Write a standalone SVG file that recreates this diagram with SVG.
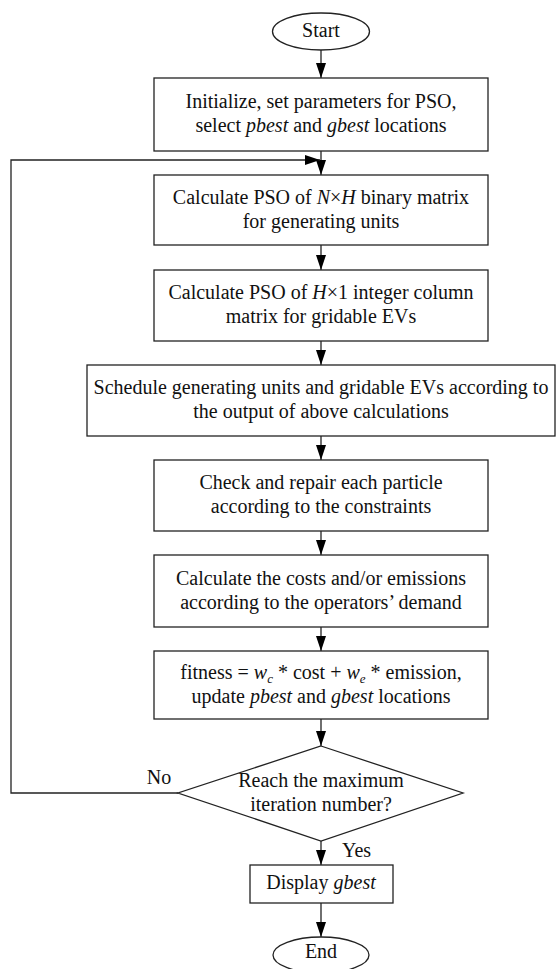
<svg xmlns="http://www.w3.org/2000/svg" width="556" height="969" viewBox="0 0 556 969">
<style>
.box{fill:#fff;stroke:#222;stroke-width:1.3}
.ln{fill:none;stroke:#222;stroke-width:1.3}
text{font-family:"Liberation Serif","Times New Roman",serif;font-size:20px;fill:#111}
.c{text-anchor:middle}
.i{font-style:italic}
.sub{font-size:13px;font-style:italic}
</style>
<defs>
<marker id="ah" markerWidth="15" markerHeight="10" refX="15" refY="5" viewBox="0 0 15 10" markerUnits="userSpaceOnUse" orient="auto">
<path d="M0,0 L15,5 L0,10 Z" fill="#000"/>
</marker>
</defs>
<rect width="556" height="969" fill="#fff"/>
<g id="connectors">
<line class="ln" x1="321" y1="50" x2="321" y2="78" marker-end="url(#ah)"/>
<line class="ln" x1="321" y1="151" x2="321" y2="175" marker-end="url(#ah)"/>
<polyline class="ln" points="178,793 11,793 11,160 320,160" marker-end="url(#ah)"/>
<line class="ln" x1="321" y1="245" x2="321" y2="270" marker-end="url(#ah)"/>
<line class="ln" x1="321" y1="341" x2="321" y2="365" marker-end="url(#ah)"/>
<line class="ln" x1="321" y1="436" x2="321" y2="460" marker-end="url(#ah)"/>
<line class="ln" x1="321" y1="531" x2="321" y2="555" marker-end="url(#ah)"/>
<line class="ln" x1="321" y1="627" x2="321" y2="651" marker-end="url(#ah)"/>
<line class="ln" x1="321" y1="719" x2="321" y2="746" marker-end="url(#ah)"/>
<line class="ln" x1="321" y1="841" x2="321" y2="865" marker-end="url(#ah)"/>
<line class="ln" x1="321" y1="903" x2="321" y2="937" marker-end="url(#ah)"/>
<text x="159" y="784" class="c">No</text>
<text x="342" y="857">Yes</text>
</g>
<g id="start">
<ellipse class="box" cx="321" cy="31.5" rx="48.5" ry="18.5"/>
<text x="321" y="37" class="c">Start</text>
</g>
<g id="init">
<rect class="box" x="154" y="78" width="334" height="73"/>
<text x="321" y="108" class="c">Initialize, set parameters for PSO,</text>
<text x="321" y="132" class="c">select <tspan class="i">pbest</tspan> and <tspan class="i">gbest</tspan> locations</text>
</g>
<g id="pso-binary">
<rect class="box" x="154" y="175" width="334" height="70"/>
<text x="321" y="204" class="c">Calculate PSO of <tspan class="i">N</tspan>×<tspan class="i">H</tspan> binary matrix</text>
<text x="321" y="228" class="c">for generating units</text>
</g>
<g id="pso-integer">
<rect class="box" x="154" y="270" width="334" height="71"/>
<text x="321" y="299" class="c">Calculate PSO of <tspan class="i">H</tspan>×1 integer column</text>
<text x="321" y="323" class="c">matrix for gridable EVs</text>
</g>
<g id="schedule">
<rect class="box" x="87" y="365" width="468" height="71"/>
<text x="321" y="394" class="c">Schedule generating units and gridable EVs according to</text>
<text x="321" y="418" class="c">the output of above calculations</text>
</g>
<g id="check">
<rect class="box" x="154" y="460" width="334" height="71"/>
<text x="321" y="489" class="c">Check and repair each particle</text>
<text x="321" y="513" class="c">according to the constraints</text>
</g>
<g id="costs">
<rect class="box" x="154" y="555" width="334" height="72"/>
<text x="321" y="585" class="c">Calculate the costs and/or emissions</text>
<text x="321" y="609" class="c">according to the operators’ demand</text>
</g>
<g id="fitness">
<rect class="box" x="154" y="651" width="334" height="68"/>
<text x="321" y="679" class="c">fitness = <tspan class="i">w</tspan><tspan class="sub" dy="4">c</tspan><tspan dy="-4"> * cost + </tspan><tspan class="i">w</tspan><tspan class="sub" dy="4">e</tspan><tspan dy="-4"> * emission,</tspan></text>
<text x="321" y="703" class="c">update <tspan class="i">pbest</tspan> and <tspan class="i">gbest</tspan> locations</text>
</g>
<g id="decision">
<polygon class="box" points="321,746 463,793 321,841 178,793"/>
<text x="321" y="787" class="c">Reach the maximum</text>
<text x="321" y="811" class="c">iteration number?</text>
</g>
<g id="display">
<rect class="box" x="250" y="865" width="143" height="38"/>
<text x="321" y="889" class="c">Display <tspan class="i">gbest</tspan></text>
</g>
<g id="end">
<ellipse class="box" cx="321" cy="955" rx="48" ry="18"/>
<text x="321" y="958" class="c">End</text>
</g>
</svg>
